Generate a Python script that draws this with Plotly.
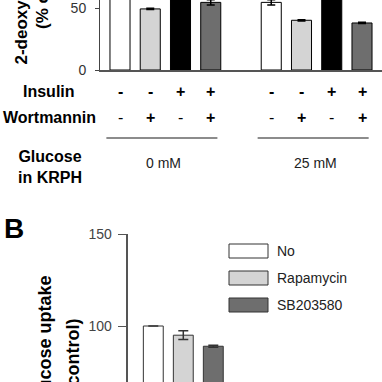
import plotly.graph_objects as go

# ---------------- data ----------------
glucose_groups = ["0 mM", "25 mM"]
insulin = ["-", "-", "+", "+"]
wortmannin = ["-", "+", "-", "+"]
uptake_0mM = [100, 49.5, 185, 54.8]
uptake_25mM = [54.8, 40.3, 160, 38.1]
err_0mM = [3, 0.5, 6, 2.2]
err_25mM = [2.2, 0.5, 6, 0.5]
bar_colors_a = ["#ffffff", "#d4d4d4", "#000000", "#6e6e6e"]

treatments_b = ["No", "Rapamycin", "SB203580"]
uptake_b = [100, 95, 89]
err_b = [0, 2.4, 0.5]
colors_b = ["#ffffff", "#d4d4d4", "#6e6e6e"]

yticks_a = [0, 50]
yticks_b = [100, 150]

# ---------------- layout helpers ----------------
W = H = 382
FONT = "Arial, Liberation Sans, sans-serif"


def px_x(p):
    return p / W


def px_y(p):
    return 1 - p / H


# build panel A categories (with a spacer between glucose groups)
cats, vals, errs, cols = [], [], [], []
group_values = [uptake_0mM, uptake_25mM]
group_errs = [err_0mM, err_25mM]
group_starts = []
for g, glu in enumerate(glucose_groups):
    if g > 0:
        cats.append(" ")
        vals.append(None)
        errs.append(None)
        cols.append("#ffffff")
    group_starts.append(len(cats))
    for i in range(len(insulin)):
        cats.append(f"{glu} Ins{insulin[i]} Wort{wortmannin[i]}")
        vals.append(group_values[g][i])
        errs.append(group_errs[g][i])
        cols.append(bar_colors_a[i])

fig = go.Figure()

fig.add_trace(go.Bar(
    x=cats, y=vals, xaxis="x", yaxis="y",
    marker=dict(color=cols, line=dict(color="#000000", width=1)),
    error_y=dict(type="data", array=errs, visible=True, color="#000000",
                 thickness=1.5, width=4),
    showlegend=False,
))

for name, v, e, c in zip(treatments_b, uptake_b, err_b, colors_b):
    fig.add_trace(go.Bar(
        x=[name], y=[v], name=name, xaxis="x2", yaxis="y2",
        marker=dict(color=c, line=dict(color="#333333", width=1)),
        error_y=dict(type="data", array=[e], visible=True, color="#333333",
                     thickness=1.5, width=5),
        showlegend=False,
    ))

annotations = []
shapes = []


def note(x, y, text, size=16, color="#000000", xref="paper", xanchor="center",
         yanchor="middle", **kw):
    d = dict(x=x, xref=xref, y=y, yref="paper", text=text, showarrow=False,
             xanchor=xanchor, yanchor=yanchor,
             font=dict(family=FONT, size=size, color=color))
    d.update(kw)
    annotations.append(d)


# +/- rows
for g, start in enumerate(group_starts):
    for i in range(len(insulin)):
        note(cats[start + i], px_y(91), f"<b>{insulin[i]}</b>", xref="x")
        wt = f"<b>{wortmannin[i]}</b>" if wortmannin[i] == "+" else wortmannin[i]
        note(cats[start + i], px_y(117), wt, xref="x")
    n = len(insulin)
    shapes.append(dict(type="line", xref="x", yref="paper",
                       x0=start - 0.45, x1=start + n - 1 + 0.22,
                       y0=px_y(138), y1=px_y(138),
                       line=dict(color="#666666", width=1.5)))
    note(start + 1.45, px_y(163), glucose_groups[g], size=14,
         color="#222222", xref="x")

note(px_x(49), px_y(91), "<b>Insulin</b>")
note(px_x(49), px_y(117), "<b>Wortmannin</b>")
note(px_x(50), px_y(167), "<b>Glucose<br>in KRPH</b>")

# panel label
note(px_x(14), px_y(228), "<b>B</b>", size=28)

# y-axis titles (rotated)
note(px_x(20.5), px_y(67), "<b>2-deoxyglucose uptake</b>", size=17,
     yanchor="bottom", textangle=-90)
note(px_x(42), px_y(31), "<b>(% of control)</b>", size=17,
     yanchor="bottom", textangle=-90)
note(px_x(44), px_y(274), "<b>2-deoxyglucose uptake</b>", size=18,
     yanchor="top", textangle=-90)
note(px_x(72.5), px_y(317), "<b>(% of control)</b>", size=18,
     yanchor="top", textangle=-90)

# legend for panel B (boxes + labels)
for k, (name, c) in enumerate(zip(treatments_b, colors_b)):
    yc = 251 + k * 27
    shapes.append(dict(type="rect", xref="paper", yref="paper",
                       x0=px_x(229), x1=px_x(268),
                       y0=px_y(yc - 7), y1=px_y(yc + 7),
                       fillcolor=c, line=dict(color="#333333", width=1)))
    note(px_x(275), px_y(yc), name, size=14, color="#222222", xanchor="left")

fig.update_layout(
    width=W, height=H,
    margin=dict(l=0, r=0, t=0, b=0, pad=0, autoexpand=False),
    paper_bgcolor="white", plot_bgcolor="white",
    barmode="overlay", bargap=0.337,
    showlegend=False,
    font=dict(family=FONT),
    xaxis=dict(domain=[px_x(100), 1], range=[-0.661, 8.661],
               type="category", categoryorder="array", categoryarray=cats,
               showticklabels=False, ticks="", showgrid=False,
               showline=True, linecolor="#555555", linewidth=1.5,
               zeroline=False, anchor="y", automargin=False),
    yaxis=dict(domain=[px_y(70), 1], range=[0, 70 / 1.234],
               tickvals=yticks_a, ticks="outside", ticklen=4,
               tickcolor="#444444", tickwidth=1, ticklabelstandoff=6,
               tickfont=dict(family=FONT, size=14, color="#333333"),
               showgrid=False, zeroline=False, showline=True,
               linecolor="#444444", linewidth=1, anchor="x",
               automargin=False),
    xaxis2=dict(domain=[px_x(128.3), 1], range=[-0.833, 7.623],
                type="category", categoryorder="array",
                categoryarray=treatments_b, showticklabels=False, ticks="",
                showgrid=False, showline=False, zeroline=False,
                anchor="y2", automargin=False),
    yaxis2=dict(domain=[0, px_y(234)], range=[150 - 148 / 1.84, 150],
                tickvals=yticks_b, ticks="outside", ticklen=9,
                tickcolor="#555555", tickwidth=1.2, ticklabelstandoff=3,
                tickfont=dict(family=FONT, size=14, color="#444444"),
                showgrid=False, zeroline=False, showline=True,
                linecolor="#555555", linewidth=1.5, anchor="x2",
                automargin=False),
    annotations=annotations,
    shapes=shapes,
)

fig.write_html(
    "out.html",
    config={"displayModeBar": False},
    post_script="document.body.style.margin='0';",
)
